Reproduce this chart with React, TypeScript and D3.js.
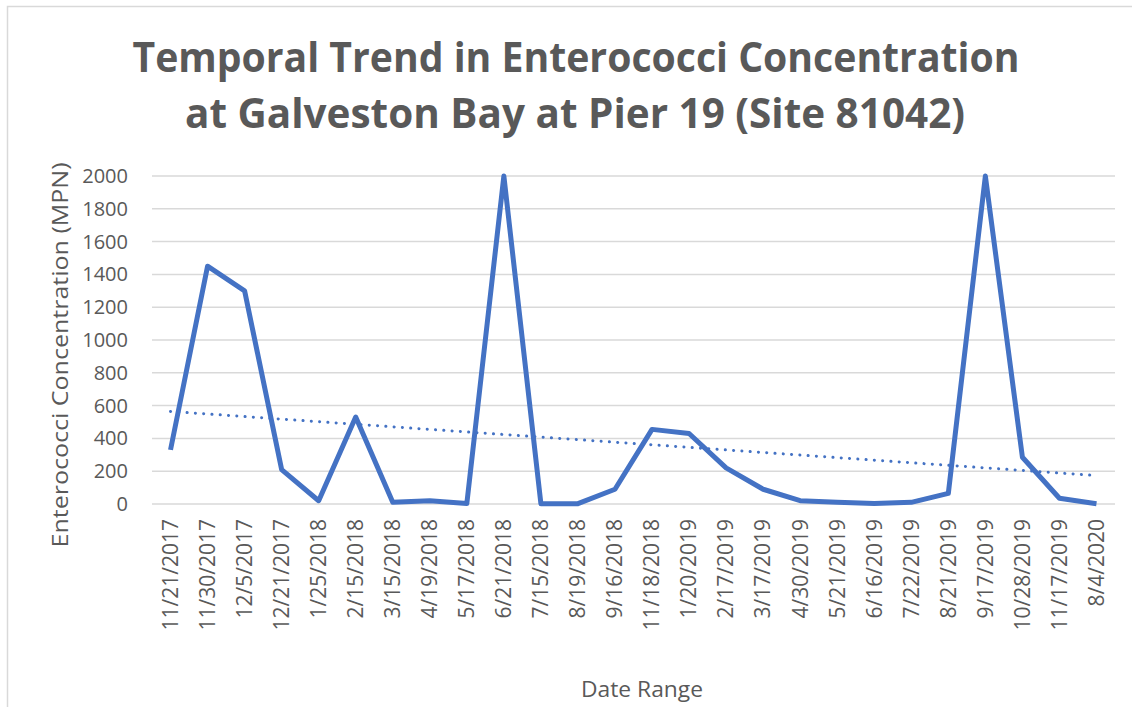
import React from "react";
import * as d3 from "d3";

// sample dates (x categories)
const dates = [
  "11/21/2017", "11/30/2017", "12/5/2017", "12/21/2017", "1/25/2018", "2/15/2018",
  "3/15/2018", "4/19/2018", "5/17/2018", "6/21/2018", "7/15/2018", "8/19/2018",
  "9/16/2018", "11/18/2018", "1/20/2019", "2/17/2019", "3/17/2019", "4/30/2019",
  "5/21/2019", "6/16/2019", "7/22/2019", "8/21/2019", "9/17/2019", "10/28/2019",
  "11/17/2019", "8/4/2020",
];

// enterococci MPN
const values = [
  330, 1450, 1300, 210, 20, 530, 10, 20, 3, 2000, 2, 2, 90, 455, 430, 220, 90, 20,
  10, 3, 10, 65, 2000, 285, 35, 2,
];

const yTicks = [0, 200, 400, 600, 800, 1000, 1200, 1400, 1600, 1800, 2000];

const W = 1132;
const H = 707;
const margin = { left: 152, right: 17, top: 176, bottom: 203 };
const FONT = "'Open Sans', 'DejaVu Sans', sans-serif";
const GREY = "#595959";
const BLUE = "#4472C4";

export default function App() {
  const x = d3
    .scaleBand<string>()
    .domain(dates)
    .range([margin.left, W - margin.right]);
  const y = d3
    .scaleLinear()
    .domain([0, 2000])
    .range([H - margin.bottom, margin.top]);

  const cx = (d: string) => (x(d) || 0) + x.bandwidth() / 2;

  const line = d3
    .line<number>()
    .x((_d, i) => cx(dates[i]))
    .y((d) => y(d));

  // linear trendline (least squares on index 1..n)
  const n = values.length;
  const xs = values.map((_v, i) => i + 1);
  const mx = d3.mean(xs) as number;
  const my = d3.mean(values) as number;
  const slope =
    d3.sum(xs, (xi, i) => (xi - mx) * (values[i] - my)) /
    d3.sum(xs, (xi) => (xi - mx) * (xi - mx));
  const icpt = my - slope * mx;
  const trend = [
    { px: cx(dates[0]), v: icpt + slope * 1 },
    { px: cx(dates[n - 1]), v: icpt + slope * n },
  ];

  const x0 = margin.left;
  const x1 = W - margin.right;

  return (
    <svg
      width={W}
      height={H}
      style={{ position: "absolute", left: 0, top: 0, background: "#fff" }}
      fontFamily={FONT}
    >
      <rect x={0} y={0} width={W} height={H} fill="#fff" />
      {/* chart border */}
      <path d={`M${W},6.5 H7.5 V${H}`} fill="none" stroke="#d9d9d9" strokeWidth={1.5} />

      {/* title */}
      <text
        x={576}
        y={72}
        textAnchor="middle"
        fontSize={42}
        fontWeight="bold"
        fill={GREY}
        textLength={887}
        lengthAdjust="spacingAndGlyphs"
      >
        Temporal Trend in Enterococci Concentration
      </text>
      <text
        x={575}
        y={128}
        textAnchor="middle"
        fontSize={42}
        fontWeight="bold"
        fill={GREY}
        textLength={780}
        lengthAdjust="spacingAndGlyphs"
      >
        at Galveston Bay at Pier 19 (Site 81042)
      </text>

      {/* gridlines + y tick labels */}
      {yTicks.map((t) => (
        <g key={t}>
          <line x1={x0} x2={x1} y1={y(t)} y2={y(t)} stroke="#d9d9d9" strokeWidth={1.5} />
          <text
            x={128}
            y={y(t)}
            dy="0.35em"
            textAnchor="end"
            fontSize={20}
            fill={GREY}
          >
            {t}
          </text>
        </g>
      ))}

      {/* x tick labels */}
      {dates.map((d) => (
        <text
          key={d}
          transform={`translate(${cx(d)},519) rotate(-90)`}
          dy="0.35em"
          textAnchor="end"
          fontSize={21}
          fill={GREY}
        >
          {d}
        </text>
      ))}

      {/* series */}
      <defs>
        <clipPath id="plot-clip">
          <rect x={x0} y={margin.top - 4} width={x1 - x0} height={H - margin.bottom - margin.top + 8} />
        </clipPath>
      </defs>
      <path
        d={line(values) || ""}
        fill="none"
        stroke={BLUE}
        strokeWidth={5}
        strokeLinejoin="round"
        clipPath="url(#plot-clip)"
      />
      <line
        x1={trend[0].px}
        y1={y(trend[0].v)}
        x2={trend[1].px}
        y2={y(trend[1].v)}
        stroke={BLUE}
        strokeWidth={3}
        strokeLinecap="round"
        strokeDasharray="0.1 8.2"
      />

      {/* axis titles */}
      <text
        transform={`translate(60,355) rotate(-90)`}
        dy="0.35em"
        textAnchor="middle"
        fontSize={22}
        fill={GREY}
        textLength={385}
        lengthAdjust="spacingAndGlyphs"
      >
        Enterococci Concentration (MPN)
      </text>
      <text
        x={642}
        y={697}
        textAnchor="middle"
        fontSize={22}
        fill={GREY}
        textLength={122}
        lengthAdjust="spacingAndGlyphs"
      >
        Date Range
      </text>
    </svg>
  );
}
